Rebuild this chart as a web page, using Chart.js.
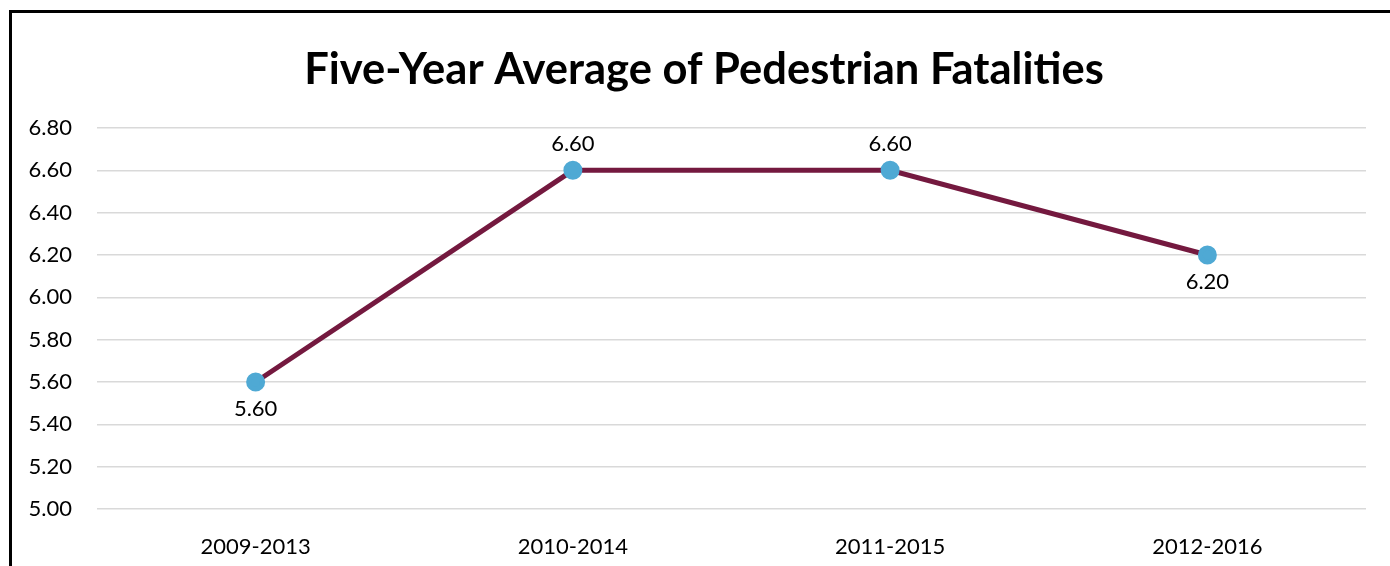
<!DOCTYPE html>
<html lang="en">
<head>
    <meta charset="UTF-8">
    <title>Five-Year Average of Pedestrian Fatalities</title>
    <script src="https://cdn.jsdelivr.net/npm/chart.js"></script>
    <style>
        html, body { margin: 0; padding: 0; background: #fff; }
        #wrap { position: relative; width: 1390px; height: 566px; overflow: hidden; }
        #frame {
            position: absolute; left: 9px; top: 10px; width: 1500px; height: 700px;
            border-left: 3px solid #000; border-top: 3px solid #000;
        }
        canvas { position: absolute; left: 0; top: 0; }
    </style>
</head>
<body>
<div id="wrap">
    <div id="frame"></div>
    <canvas id="fatalChart" width="1390" height="566"></canvas>
</div>
<script>
    // data
    var periods = ['2009-2013', '2010-2014', '2011-2015', '2012-2016'];
    var avgFatalities = [5.60, 6.60, 6.60, 6.20];
    var labelSide = ['below', 'above', 'above', 'below'];
    var yMin = 5.0, yMax = 6.8, yStep = 0.2;
    var chartTitle = 'Five-Year Average of Pedestrian Fatalities';

    var fontFamily = "Lato, 'Noto Sans', sans-serif";

    // value labels next to each point + title (centred on the frame, not the plot)
    var pointLabels = {
        id: 'pointLabels',
        afterDatasetsDraw: function (chart) {
            var ctx = chart.ctx;
            var meta = chart.getDatasetMeta(0);
            ctx.save();
            ctx.font = '22px ' + fontFamily;
            ctx.fillStyle = '#000';
            ctx.textAlign = 'center';
            ctx.textBaseline = 'middle';
            meta.data.forEach(function (pt, i) {
                var dy = labelSide[i] === 'above' ? -26 : 27;
                ctx.fillText(avgFatalities[i].toFixed(2), pt.x, pt.y + dy);
            });
            ctx.font = 'bold 43.5px ' + fontFamily;
            ctx.fillText(chartTitle, 704, 70);
            ctx.restore();
        }
    };

    var fatalChart = new Chart(document.getElementById('fatalChart'), {
        type: 'line',
        data: {
            labels: periods,
            datasets: [{
                data: avgFatalities,
                borderColor: '#74193f',
                borderWidth: 5,
                pointBackgroundColor: '#4fa9d4',
                pointBorderColor: '#4fa9d4',
                pointRadius: 7,
                tension: 0
            }]
        },
        options: {
            responsive: false,
            animation: false,
            layout: { padding: { left: 0, right: 24, top: 128, bottom: 0 } },
            plugins: {
                legend: { display: false },
                tooltip: { enabled: false },
                title: { display: false }
            },
            scales: {
                x: {
                    offset: true,
                    afterFit: function (scale) { scale.height = 57; },
                    grid: { display: false },
                    border: { display: false },
                    ticks: {
                        color: '#000',
                        padding: 17,
                        font: { family: fontFamily, size: 22 }
                    }
                },
                y: {
                    min: yMin,
                    max: yMax,
                    afterFit: function (scale) { scale.width = 97; },
                    grid: { color: '#d9d9d9', lineWidth: 1.5, drawTicks: false },
                    border: { display: false },
                    ticks: {
                        stepSize: yStep,
                        color: '#000',
                        padding: 25,
                        font: { family: fontFamily, size: 22 },
                        callback: function (v) { return v.toFixed(2); }
                    }
                }
            }
        },
        plugins: [pointLabels]
    });
</script>
</body>
</html>
